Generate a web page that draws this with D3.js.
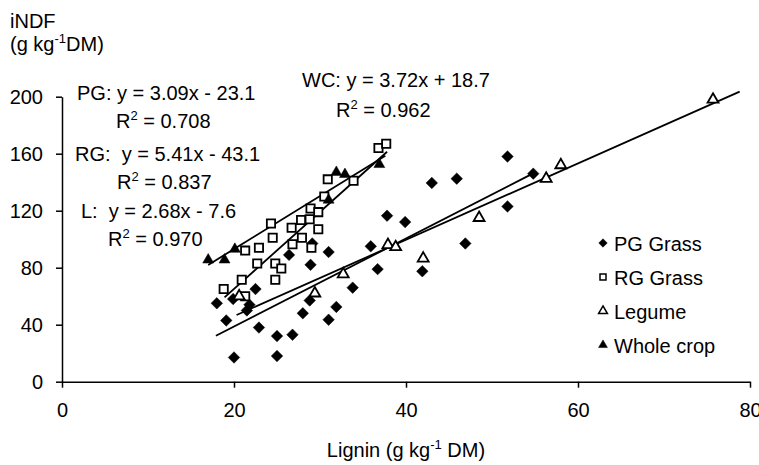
<!DOCTYPE html>
<html>
<head>
<meta charset="utf-8">
<script src="https://cdn.jsdelivr.net/npm/d3@7"></script>
<style>
  body { margin: 0; background: #fff; }
  svg text { font-family: "Liberation Sans", Arial, sans-serif; font-size: 20px; fill: #000; white-space: pre; }
</style>
</head>
<body>
<svg width="759" height="465"></svg>
<script>
// data: [lignin, iNDF]
const pgGrass = [
  [18.0, 55], [19.1, 43], [20.0, 17], [19.9, 58], [21.8, 54], [21.5, 50],
  [22.5, 65], [22.9, 38], [25.0, 32], [25.0, 18], [26.8, 33], [28.0, 48],
  [26.4, 89], [28.9, 82], [28.8, 57], [29.1, 97], [31.0, 91], [31.0, 43.5],
  [31.9, 52.5], [33.8, 66], [35.9, 95], [36.7, 79], [37.8, 116.5], [39.9, 112],
  [41.9, 77.5], [43.0, 139.5], [45.9, 142.5], [46.9, 97], [51.8, 158],
  [51.8, 123], [54.8, 146]
]
const rgGrass = [
  [18.8, 65], [20.9, 71.5], [21.3, 92], [21.3, 60], [22.9, 94], [22.7, 83],
  [24.3, 111], [24.5, 101], [24.8, 83], [25.5, 79.5], [24.8, 71.5], [26.7, 108],
  [26.8, 96.5], [27.8, 113.5], [27.9, 101], [28.9, 121.5], [28.8, 114],
  [29.8, 119], [29.8, 107], [29.0, 94], [30.5, 130], [30.9, 142], [33.9, 141],
  [36.8, 164], [37.7, 167]
]
const legume = [
  [20.6, 60], [29.4, 62], [32.7, 75.5], [37.9, 96], [38.8, 94.5], [42.0, 86.5],
  [48.5, 115], [56.3, 142.5], [58.0, 152], [75.7, 198]
]
const wholeCrop = [
  [17.0, 85.5], [18.9, 85.5], [20.1, 93], [31.0, 127.5], [31.9, 147],
  [32.9, 145.5], [36.9, 152.5]
]

// trendlines: slope, intercept and drawn x range
const trendNames = ["PG", "RG", "L", "WC"]
const slopes = [3.09, 5.41, 2.68, 3.72]
const intercepts = [-23.1, -43.1, -7.6, 18.7]
const trendFrom = [17.9, 18.9, 20.3, 17.0]
const trendTo = [54.5, 37.8, 78.8, 37.6]
const eqLabels = ["PG: y = 3.09x - 23.1", "RG:  y = 5.41x - 43.1", "L:  y = 2.68x - 7.6", "WC: y = 3.72x + 18.7"]
const r2Labels = ["0.708", "0.837", "0.970", "0.962"]

const legendNames = ["PG Grass", "RG Grass", "Legume", "Whole crop"]
const xTicks = [0, 20, 40, 60, 80]
const yTicks = [0, 40, 80, 120, 160, 200]

var svg = d3.select("svg")

var x = d3.scaleLinear().domain([0, 80]).range([62, 750]),
    y = d3.scaleLinear().domain([0, 200]).range([381.7, 96.7]);

// axes
var xAxis = svg.append("g").attr("transform", "translate(0," + y(0) + ")")
  .call(d3.axisBottom(x).tickValues(xTicks).tickSize(6).tickSizeOuter(0).tickPadding(15))
var yAxis = svg.append("g").attr("transform", "translate(" + x(0) + ",0)")
  .call(d3.axisLeft(y).tickValues(yTicks).tickSize(6).tickSizeOuter(0).tickPadding(13))
svg.selectAll(".domain, .tick line").attr("stroke", "#000").attr("stroke-width", 1.5)
svg.selectAll(".tick text").attr("font-size", 20).attr("font-family", null)

// trend lines
trendNames.forEach((n, i) => {
  const f = v => slopes[i] * v + intercepts[i]
  svg.append("line")
    .attr("x1", x(trendFrom[i])).attr("y1", y(f(trendFrom[i])))
    .attr("x2", x(trendTo[i])).attr("y2", y(f(trendTo[i])))
    .attr("stroke", "#000").attr("stroke-width", 1.8)
})

// markers
const diamond = d3.symbol().type(d3.symbolSquare).size(66)
const square = d3.symbol().type(d3.symbolSquare).size(68)
const tri = d3.symbol().type(d3.symbolTriangle).size(52)

function drawPoints(data, path, fill, rotate) {
  svg.append("g").selectAll("path").data(data).enter().append("path")
    .attr("d", path)
    .attr("transform", d => "translate(" + x(d[0]) + "," + y(d[1]) + ")" + (rotate ? " rotate(45)" : ""))
    .attr("fill", fill)
    .attr("stroke", "#000")
    .attr("stroke-width", fill === "#fff" ? 1.8 : 0.5)
}
drawPoints(pgGrass, diamond, "#000", true)
drawPoints(rgGrass, square, "#fff", false)
drawPoints(legume, tri, "#fff", false)
drawPoints(wholeCrop, tri, "#000", false)

// equations
const eqPos = [[77, 100, 116, 128], [75, 160.5, 117, 188.5], [81, 217.5, 108, 246], [302, 87, 336, 116.5]]
trendNames.forEach((n, i) => {
  svg.append("text").attr("x", eqPos[i][0]).attr("y", eqPos[i][1]).text(eqLabels[i])
  const t = svg.append("text").attr("x", eqPos[i][2]).attr("y", eqPos[i][3])
  t.append("tspan").text("R")
  t.append("tspan").attr("dy", -8).attr("font-size", 13).text("2")
  t.append("tspan").attr("dy", 8).text(" = " + r2Labels[i])
})

// legend
const legendSymbols = [
  d3.symbol().type(d3.symbolSquare).size(36),
  d3.symbol().type(d3.symbolSquare).size(36),
  d3.symbol().type(d3.symbolTriangle).size(34),
  d3.symbol().type(d3.symbolTriangle).size(34)
]
const legendFill = ["#000", "#fff", "#fff", "#000"]
legendNames.forEach((name, i) => {
  const cy = 243 + i * 34
  svg.append("path").attr("d", legendSymbols[i])
    .attr("transform", "translate(603," + cy + ")" + (i === 0 ? " rotate(45)" : ""))
    .attr("fill", legendFill[i]).attr("stroke", "#000")
    .attr("stroke-width", legendFill[i] === "#fff" ? 1.5 : 0.5)
  svg.append("text").attr("x", 614).attr("y", cy + 7.5).text(name)
})

// axis titles
svg.append("text").attr("x", 10).attr("y", 28).text("iNDF")
const yt = svg.append("text").attr("x", 10).attr("y", 51)
yt.append("tspan").text("(g kg")
yt.append("tspan").attr("dy", -8).attr("font-size", 13).text("-1")
yt.append("tspan").attr("dy", 8).text("DM)")

const xt = svg.append("text").attr("x", x(40)).attr("y", 457).attr("text-anchor", "middle")
xt.append("tspan").text("Lignin (g kg")
xt.append("tspan").attr("dy", -8).attr("font-size", 13).text("-1")
xt.append("tspan").attr("dy", 8).text(" DM)")
</script>
</body>
</html>
